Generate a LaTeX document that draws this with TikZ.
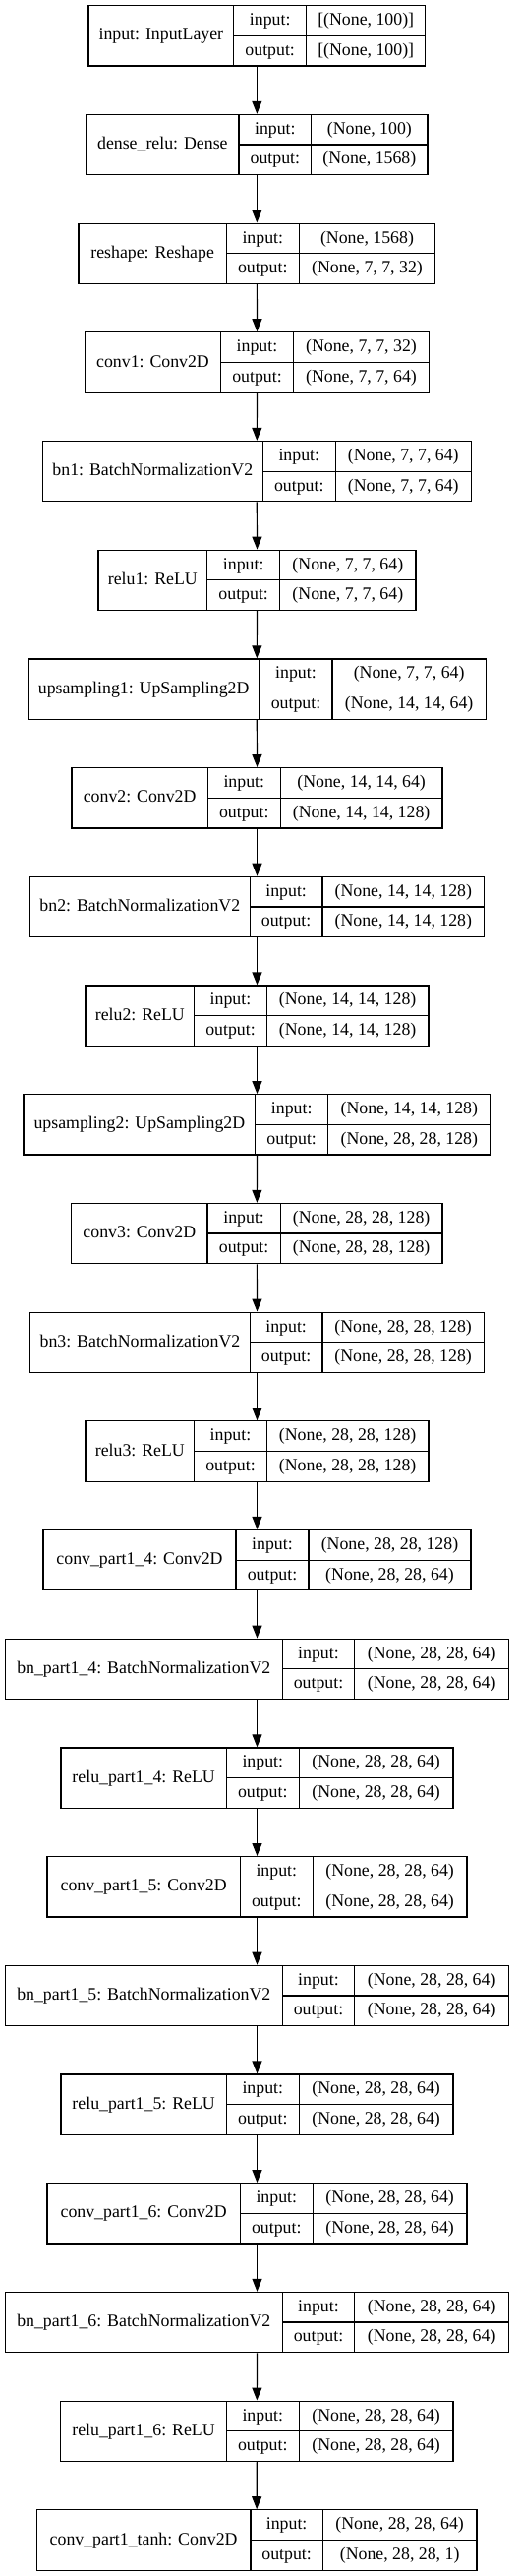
\documentclass[tikz,border=0pt]{standalone}
\usepackage{fontspec}
\setmainfont{Liberation Serif}
\usetikzlibrary{arrows.meta}
\tikzset{
  box/.style={draw=black, line width=1.2pt, inner sep=0pt, minimum height=61.3pt},
  cell/.style={draw=black, line width=1.2pt},
  txt/.style={inner sep=0pt, anchor=base, font=\fontsize{17.8}{20}\selectfont},
  arr/.style={draw=black, line width=1.2pt, -{Triangle[length=13pt,width=10pt]}}
}
% #1 index, #2 left, #3 divider1, #4 divider2, #5 right, #6 name, #7 input shape, #8 output shape
\newcommand\klayer[8]{%
  \pgfmathsetmacro\kT{5.7+110.7*#1}%
  \pgfmathsetmacro\kB{\kT+61.3}%
  \pgfmathsetmacro\kM{\kT+30.65}%
  \pgfmathsetmacro\kW{#5-#2}%
  \pgfmathsetmacro\kC{(#2+#5)/2}%
  \pgfmathsetmacro\kyN{\kM+4.6}%
  \pgfmathsetmacro\kyI{\kT+15.3+4.6}%
  \pgfmathsetmacro\kyO{\kM+15.3+4.6}%
  \node[box, minimum width=\kW pt] (l#1) at (\kC,\kM) {};
  \draw[cell] (#3,\kT) -- (#3,\kB) (#4,\kT) -- (#4,\kB) (#3,\kM) -- (#5,\kM);
  \node[txt] (l#1n) at ({(#2+#3)/2},\kyN) {#6};
  \node[txt] (l#1i) at ({(#3+#4)/2},\kyI) {input:};
  \node[txt] (l#1o) at ({(#3+#4)/2},\kyO) {output:};
  \node[txt] (l#1a) at ({(#4+#5)/2},\kyI) {#7};
  \node[txt] (l#1b) at ({(#4+#5)/2},\kyO) {#8};
}
\begin{document}
\begin{tikzpicture}[x=1pt,y=-1pt]
\fill[white] (0,0) rectangle (529,2619);
\useasboundingbox (0,0) rectangle (529,2619);
\klayer{0}{90}{237.7}{311.7}{432.7}{input: InputLayer}{[(None, 100)]}{[(None, 100)]}
\klayer{1}{87.7}{243}{316.7}{435}{dense\_relu: Dense}{(None, 100)}{(None, 1568)}
\klayer{2}{80}{230.3}{304.3}{442.7}{reshape: Reshape}{(None, 1568)}{(None, 7, 7, 32)}
\klayer{3}{86.3}{224.7}{298.3}{436.7}{conv1: Conv2D}{(None, 7, 7, 32)}{(None, 7, 7, 64)}
\klayer{4}{43.3}{267.3}{341.3}{479.3}{bn1: BatchNormalizationV2}{(None, 7, 7, 64)}{(None, 7, 7, 64)}
\klayer{5}{100}{210.7}{284.7}{423}{relu1: ReLU}{(None, 7, 7, 64)}{(None, 7, 7, 64)}
\klayer{6}{28.3}{264}{338}{494.3}{upsampling1: UpSampling2D}{(None, 7, 7, 64)}{(None, 14, 14, 64)}
\klayer{7}{73}{211.3}{285.3}{450}{conv2: Conv2D}{(None, 14, 14, 64)}{(None, 14, 14, 128)}
\klayer{8}{30.3}{254.3}{328}{492.7}{bn2: BatchNormalizationV2}{(None, 14, 14, 128)}{(None, 14, 14, 128)}
\klayer{9}{87}{197.7}{271.3}{436}{relu2: ReLU}{(None, 14, 14, 128)}{(None, 14, 14, 128)}
\klayer{10}{24}{259.7}{333.7}{499}{upsampling2: UpSampling2D}{(None, 14, 14, 128)}{(None, 28, 28, 128)}
\klayer{11}{72.7}{211}{285.3}{450}{conv3: Conv2D}{(None, 28, 28, 128)}{(None, 28, 28, 128)}
\klayer{12}{30.7}{254.3}{328}{492.3}{bn3: BatchNormalizationV2}{(None, 28, 28, 128)}{(None, 28, 28, 128)}
\klayer{13}{87}{197.7}{271.3}{436}{relu3: ReLU}{(None, 28, 28, 128)}{(None, 28, 28, 128)}
\klayer{14}{44}{240}{314}{479}{conv\_part1\_4: Conv2D}{(None, 28, 28, 128)}{(None, 28, 28, 64)}
\klayer{15}{5.3}{287.3}{360.7}{517.7}{bn\_part1\_4: BatchNormalizationV2}{(None, 28, 28, 64)}{(None, 28, 28, 64)}
\klayer{16}{62}{230.3}{304.3}{461}{relu\_part1\_4: ReLU}{(None, 28, 28, 64)}{(None, 28, 28, 64)}
\klayer{17}{48}{244.3}{318.3}{475}{conv\_part1\_5: Conv2D}{(None, 28, 28, 64)}{(None, 28, 28, 64)}
\klayer{18}{5.3}{287.3}{360.7}{517.7}{bn\_part1\_5: BatchNormalizationV2}{(None, 28, 28, 64)}{(None, 28, 28, 64)}
\klayer{19}{62}{230.3}{304.3}{461}{relu\_part1\_5: ReLU}{(None, 28, 28, 64)}{(None, 28, 28, 64)}
\klayer{20}{48}{244.3}{318.3}{475}{conv\_part1\_6: Conv2D}{(None, 28, 28, 64)}{(None, 28, 28, 64)}
\klayer{21}{5.3}{287.3}{360.7}{517.7}{bn\_part1\_6: BatchNormalizationV2}{(None, 28, 28, 64)}{(None, 28, 28, 64)}
\klayer{22}{61.7}{230.3}{304.3}{461}{relu\_part1\_6: ReLU}{(None, 28, 28, 64)}{(None, 28, 28, 64)}
\klayer{23}{37.3}{255}{328.3}{485}{conv\_part1\_tanh: Conv2D}{(None, 28, 28, 64)}{(None, 28, 28, 1)}
\foreach \i [evaluate=\i as \j using int(\i+1)] in {0,...,22}
  \draw[arr] (l\i.south) -- (l\j.north);
\end{tikzpicture}
\end{document}
